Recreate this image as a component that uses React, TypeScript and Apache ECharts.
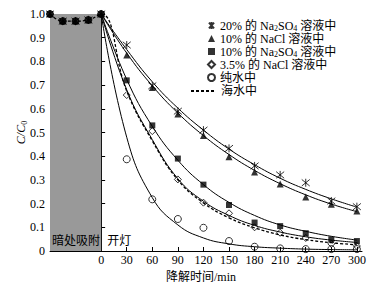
import React, { useEffect, useRef } from 'react';
import * as echarts from 'echarts';

const lightTimes = [0, 30, 60, 90, 120, 150, 180, 210, 240, 270, 300];
const darkTimes = [-60, -45, -30, -15];
const darkValues = [1.0, 0.97, 0.97, 0.975];

const starValues = [1.0, 0.869, 0.697, 0.59, 0.51, 0.433, 0.359, 0.321, 0.288, 0.211, 0.187];
const triValues = [1.0, 0.827, 0.69, 0.578, 0.487, 0.398, 0.333, 0.283, 0.228, 0.197, 0.169];
const squareValues = [1.0, 0.72, 0.53, 0.39, 0.28, 0.194, 0.12, 0.105, 0.075, 0.049, 0.042];
const diamondValues = [1.0, 0.658, 0.506, 0.302, 0.204, 0.159, 0.1, 0.077, 0.055, 0.03, 0.021];
const circleValues = [1.0, 0.387, 0.218, 0.135, 0.098, 0.042, 0.018, 0.011, 0.008, 0.008, 0.008];

const starFit = [1.0, 0.85, 0.714, 0.603, 0.51, 0.43, 0.364, 0.307, 0.26, 0.22, 0.185];
const triFit = [1.0, 0.835, 0.697, 0.582, 0.487, 0.407, 0.34, 0.284, 0.237, 0.198, 0.166];
const squareFit = [1.0, 0.724, 0.526, 0.383, 0.28, 0.205, 0.15, 0.11, 0.083, 0.062, 0.046];
const diamondFit = [1.0, 0.68, 0.47, 0.305, 0.21, 0.15, 0.108, 0.08, 0.06, 0.046, 0.036];
const circleFit = [1.0, 0.48, 0.225, 0.11, 0.055, 0.03, 0.018, 0.012, 0.008, 0.006, 0.005];
const seawaterFit = [1.0, 0.675, 0.465, 0.3, 0.203, 0.14, 0.098, 0.068, 0.048, 0.035, 0.026];

const seriesNames = [
  '20% 的 Na2SO4 溶液中',
  '10% 的 NaCl 溶液中',
  '10% 的 Na2SO4 溶液中',
  '3.5% 的 NaCl 溶液中',
  '纯水中',
  '海水中',
];
const stageLabels = ['暗处吸附', '开灯'];
const xAxisName = '降解时间/min';

const SERIF = "'Liberation Serif', 'Noto Sans CJK SC', serif";

const pairs = (xs: number[], ys: number[]) => xs.map((x, i) => [x, ys[i]]);
const withDark = (ys: number[]) => [...pairs(darkTimes, darkValues), ...pairs(lightTimes, ys)];

export default function App() {
  const ref = useRef<HTMLDivElement>(null);
  useEffect(() => {
    document.body.style.margin = '0';
    const chart = echarts.init(ref.current!, null, { renderer: 'svg' });

    const scatter = (name: string, ys: number[], symbol: string, size: number, filled: boolean) => ({
      type: 'scatter',
      name,
      data: withDark(ys),
      symbol,
      symbolSize: size,
      z: 5,
      itemStyle: filled
        ? { color: '#000', borderColor: '#000', borderWidth: 0 }
        : { color: 'transparent', borderColor: '#000', borderWidth: 1 },
    });
    const fit = (ys: number[]) => ({
      type: 'line',
      data: pairs(lightTimes, ys),
      showSymbol: false,
      symbol: 'none',
      smooth: 0.45,
      lineStyle: { color: '#000', width: 1 },
      z: 4,
    });

    const starPath = 'path://M0,0L8,9M8,0L0,9M4,-1L4,10';

    chart.setOption({
      animation: false,
      backgroundColor: '#fff',
      grid: { left: 50, right: 21, top: 14, bottom: 37 },
      xAxis: {
        type: 'value',
        min: -60,
        max: 306,
        interval: 30,
        name: xAxisName,
        nameLocation: 'middle',
        nameGap: 19,
        nameTextStyle: { color: '#000', fontSize: 12, fontFamily: SERIF, padding: [0, 0, 0, -10] },
        axisLine: { lineStyle: { color: '#000', width: 1 } },
        axisTick: { inside: true, length: 4, lineStyle: { color: '#000' } },
        axisLabel: {
          color: '#000',
          fontSize: 12,
          fontFamily: SERIF,
          margin: 3,
          showMaxLabel: false,
          formatter: (v: number) => (v >= 0 && v % 30 === 0 ? String(v) : ''),
        },
        splitLine: { show: false },
      },
      yAxis: {
        type: 'value',
        min: 0,
        max: 1,
        interval: 0.1,
        name: '{i|C/C}{s|0}',
        nameLocation: 'middle',
        nameGap: 22,
        nameMoveOverlap: false,
        nameRotate: 90,
        nameTextStyle: {
          rich: {
            i: { fontStyle: 'italic', fontFamily: SERIF, fontSize: 12, lineHeight: 14, color: '#000' },
            s: { fontFamily: SERIF, fontSize: 8, lineHeight: 8, verticalAlign: 'bottom', color: '#000' },
          },
        },
        axisLine: { show: true, lineStyle: { color: '#000', width: 1 } },
        axisTick: { show: true, inside: true, length: 4, lineStyle: { color: '#000' } },
        axisLabel: {
          color: '#000',
          fontSize: 12,
          fontFamily: SERIF,
          margin: 5,
          formatter: (v: number) => (v === 0 ? '0' : v.toFixed(1)),
        },
        splitLine: { show: false },
      },
      legend: [
        {
          orient: 'vertical',
          left: 207,
          top: 19,
          padding: 0,
          itemWidth: 7,
          itemHeight: 7,
          itemGap: 0,
          data: seriesNames.slice(0, 5),
          textStyle: {
            color: '#000',
            fontSize: 12,
            lineHeight: 13,
            fontFamily: SERIF,
            rich: {
              sub: { fontSize: 8, lineHeight: 8, verticalAlign: 'bottom', fontFamily: SERIF, color: '#000' },
            },
          },
          formatter: (n: string) => n.replace('Na2SO4', 'Na{sub|2}SO{sub|4}'),
        },
        {
          orient: 'vertical',
          left: 190,
          top: 85,
          padding: 0,
          itemWidth: 25,
          itemHeight: 8,
          itemStyle: { opacity: 0 },
          data: [seriesNames[5]],
          textStyle: { color: '#000', fontSize: 12, lineHeight: 12, fontFamily: SERIF },
        },
      ],
      series: [
        {
          type: 'line',
          name: seriesNames[5],
          data: [...pairs(darkTimes, darkValues), ...pairs(lightTimes, seawaterFit)],
          showSymbol: false,
          symbol: 'none',
          smooth: 0.45,
          lineStyle: { color: '#000', width: 1.3, type: [3, 2] },
          itemStyle: { color: '#000' },
          z: 4,
          markArea: {
            silent: true,
            label: {
              show: true,
              position: 'insideBottomLeft',
              distance: 2,
              padding: [0, 0, 4, 0],
              color: '#000',
              fontSize: 12,
              fontFamily: "'Noto Sans CJK SC', serif",
            },
            data: [
              [
                { xAxis: -60, name: stageLabels[0], itemStyle: { color: '#999999', opacity: 1 } },
                { xAxis: 0 },
              ],
              [
                {
                  xAxis: 0,
                  name: stageLabels[1],
                  itemStyle: { color: 'rgba(0,0,0,0)' },
                  label: { padding: [0, 0, 4, 4] },
                },
                { xAxis: 30 },
              ],
            ],
          },
        },
        fit(starFit),
        fit(triFit),
        fit(squareFit),
        fit(diamondFit),
        fit(circleFit),
        scatter(seriesNames[0], starValues, starPath, 8, false),
        scatter(seriesNames[1], triValues, 'triangle', 7, true),
        scatter(seriesNames[2], squareValues, 'rect', 6, true),
        scatter(seriesNames[3], diamondValues, 'diamond', 7, false),
        scatter(seriesNames[4], circleValues, 'circle', 7, false),
      ],
    });
    return () => chart.dispose();
  }, []);
  return <div ref={ref} style={{ width: 383, height: 288 }} />;
}
